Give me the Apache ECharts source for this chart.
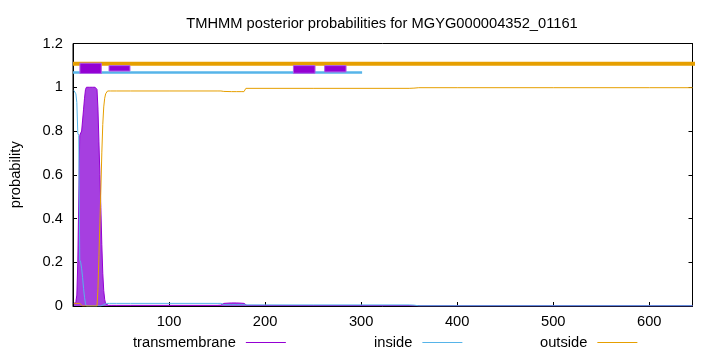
<!DOCTYPE html>
<html>
<head>
<meta charset="utf-8">
<script src="https://cdn.jsdelivr.net/npm/echarts@6/dist/echarts.min.js"></script>
<style>
  html, body { margin: 0; padding: 0; background: #fff; }
  #chart { width: 720px; height: 352px; }
</style>
</head>
<body>
<div id="chart"></div>
<script>
// residue positions (dense over the helix, sparse where curves are flat)
const residue = [1,2,3,4,5,6,7,8,9,10,11,12,13,14,15,16,17,18,19,20,
  21,22,23,24,25,26,27,28,29,30,31,32,33,34,35,36,37,38,39,40,
  45,60,100,150,154,155,157,158,165,170,175,178,180,181,250,350,355,360,400,500,600,645]

const transmembrane = [0.01,0.01,0.02,0.05,0.2,0.2,0.78,0.78,0.8,0.85,0.9,0.95,0.99,1,1,1,1,1,1,1,
  1,1,1,1,0.99,0.9,0.75,0.6,0.45,0.28,0.15,0.07,0.03,0.01,0.005,0.004,0.003,0.003,0.003,0.003,
  0.003,0.003,0.003,0.003,0.004,0.008,0.012,0.013,0.014,0.014,0.013,0.012,0.008,0.003,0.002,0.002,0.001,0.001,0.001,0.001,0.001,0.001]

const inside = [0.985,0.98,0.97,0.93,0.79,0.78,0.21,0.2,0.17,0.13,0.08,0.04,0.01,0,0,0,0,0,0,0,
  0,0,0,0,0,0,0,0,0,0.001,0.003,0.006,0.01,0.012,0.012,0.012,0.012,0.012,0.012,0.012,
  0.012,0.012,0.012,0.012,0.012,0.007,0.006,0.006,0.006,0.006,0.006,0.006,0.005,0.005,0.005,0.005,0.004,0.001,0.001,0.001,0.001,0.001]

const outside = [0.012,0.012,0.012,0.012,0.012,0.012,0.012,0.012,0.005,0,0,0,0,0,0,0,0,0,0,0,
  0,0,0,0,0,0.08,0.23,0.38,0.53,0.7,0.83,0.91,0.95,0.97,0.978,0.983,0.983,0.983,0.983,0.983,
  0.983,0.983,0.983,0.983,0.983,0.983,0.981,0.98,0.98,0.98,0.98,0.98,0.995,0.995,0.995,0.995,0.996,0.998,0.998,0.998,0.998,0.998]

// topology bar at the top
const outsideBar = [[0, 1.107], [675, 1.107]]
const insideBar = [[0, 1.068], [301, 1.068]]
const boxStart = [7.2, 37.5, 229.5, 262]
const boxEnd = [29.5, 59.3, 252, 284.3]
const boxTop = [1.11, 1.099, 1.099, 1.099]
const boxBottom = [1.063, 1.074, 1.064, 1.07]

const xTicks = [100, 200, 300, 400, 500, 600]

const FONT = "'Liberation Sans', Arial, sans-serif"
const FS = 14.7
const PURPLE = '#9400d3'
const BLUE = '#56b4e9'
const ORANGE = '#e69f00'

const zip = (xs, ys) => xs.map((x, i) => [x, ys[i]])

const chart = echarts.init(document.getElementById('chart'))

const legendItem = (name, left) => ({
  left: left,
  top: 330,
  align: 'right',
  icon: 'rect',
  itemWidth: 40,
  itemHeight: 1,
  textStyle: { fontFamily: FONT, fontSize: FS, color: '#000', padding: [0, 5, 0, 0] },
  data: [name]
})

const option = {
  animation: false,
  title: {
    text: 'TMHMM posterior probabilities for MGYG000004352_01161',
    left: 377,
    textAlign: 'center',
    top: 11,
    textStyle: { fontFamily: FONT, fontSize: FS, fontWeight: 'normal', color: '#000' }
  },
  legend: [
    legendItem('transmembrane', 128),
    legendItem('inside', 369),
    legendItem('outside', 535)
  ],
  grid: {
    left: 73, right: 27.5, top: 43.5, bottom: 46,
    show: true, borderColor: '#000', borderWidth: 1
  },
  xAxis: {
    type: 'value',
    min: 0,
    max: 645,
    interval: 100,
    axisLine: { show: true, onZero: false, lineStyle: { color: '#000' } },
    axisTick: { inside: true, length: 4, lineStyle: { color: '#000' } },
    splitLine: { show: false },
    axisLabel: {
      fontFamily: FONT, fontSize: FS, color: '#000', margin: 8,
      formatter: v => (xTicks.includes(v) ? String(v) : '')
    }
  },
  yAxis: [
    {
      type: 'value',
      min: 0,
      max: 1.2,
      interval: 0.2,
      name: 'probability',
      nameLocation: 'middle',
      nameGap: 50,
      nameTextStyle: { fontFamily: FONT, fontSize: FS, color: '#000' },
      axisLine: { show: true, lineStyle: { color: '#000' } },
      axisTick: { show: true, inside: true, length: 4, lineStyle: { color: '#000' } },
      splitLine: { show: false },
      axisLabel: { fontFamily: FONT, fontSize: FS, color: '#000', margin: 10 }
    },
    {
      type: 'value',
      min: 0,
      max: 1.2,
      interval: 0.2,
      position: 'right',
      axisLine: { show: true, lineStyle: { color: '#000' } },
      axisTick: { show: true, inside: true, length: 4, lineStyle: { color: '#000' } },
      splitLine: { show: false },
      axisLabel: { show: false }
    }
  ],
  series: [
    {
      name: 'transmembrane',
      type: 'line',
      data: zip(residue, transmembrane),
      symbol: 'none',
      lineStyle: { color: PURPLE, width: 1 },
      itemStyle: { color: PURPLE },
      areaStyle: { color: '#a63fe0', opacity: 1 },
      z: 2
    },
    {
      name: 'inside',
      type: 'line',
      data: zip(residue, inside),
      symbol: 'none',
      lineStyle: { color: BLUE, width: 1 },
      itemStyle: { color: BLUE },
      z: 3
    },
    {
      name: 'outside',
      type: 'line',
      data: zip(residue, outside),
      symbol: 'none',
      lineStyle: { color: ORANGE, width: 1 },
      itemStyle: { color: ORANGE },
      z: 3
    },
    {
      type: 'line',
      data: outsideBar,
      symbol: 'none',
      clip: false,
      lineStyle: { color: ORANGE, width: 4 },
      z: 4
    },
    {
      type: 'line',
      data: insideBar,
      symbol: 'none',
      lineStyle: { color: BLUE, width: 2.5 },
      z: 4
    },
    {
      type: 'custom',
      data: boxStart.map((s, i) => [s, boxEnd[i], boxTop[i], boxBottom[i]]),
      renderItem: (params, api) => {
        const p0 = api.coord([api.value(0), api.value(2)])
        const p1 = api.coord([api.value(1), api.value(3)])
        return {
          type: 'rect',
          shape: { x: p0[0], y: p0[1], width: p1[0] - p0[0], height: p1[1] - p0[1] },
          style: { fill: PURPLE, stroke: '#b060e6', lineWidth: 1 }
        }
      },
      z: 5
    }
  ]
}

chart.setOption(option)
</script>
</body>
</html>
